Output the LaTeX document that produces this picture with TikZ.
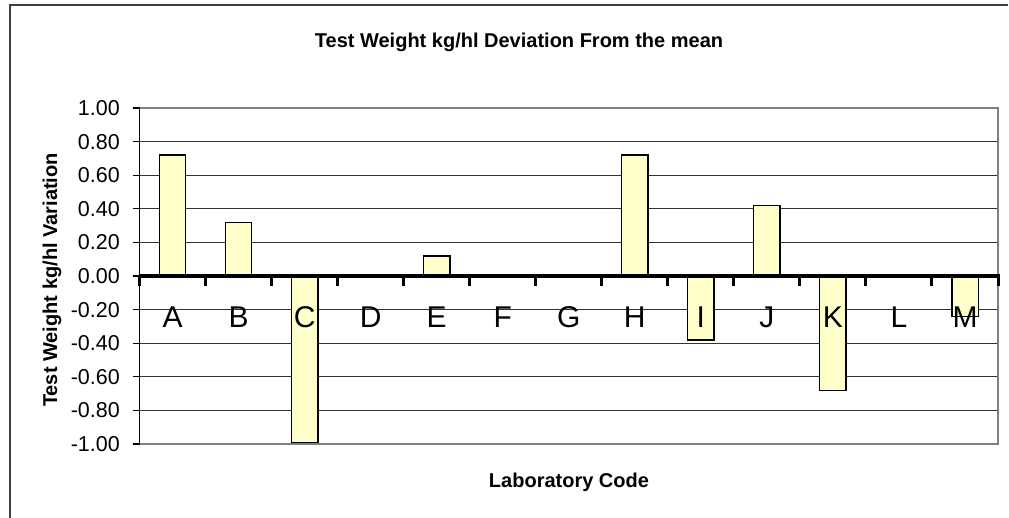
\documentclass[tikz,border=0pt]{standalone}
\usepackage{fontspec}
\setmainfont{Liberation Sans}
\definecolor{barfill}{HTML}{FFFFCC}
\begin{document}
\begin{tikzpicture}[x=1pt,y=-1pt,
  gridline/.style={line width=1pt,black!80},
  plotborder/.style={line width=2pt,black!50},
  barbox/.style={draw=black,line width=1.4pt,fill=barfill},
  ticklab/.style={font=\fontsize{21.5}{25}\selectfont,anchor=base east,inner sep=0pt},
  catlab/.style={font=\fontsize{30}{36}\selectfont,anchor=base,inner sep=0pt},
  axtitle/.style={font=\bfseries\fontsize{20}{24}\selectfont,inner sep=0pt,anchor=base}]
\useasboundingbox (0,0) rectangle (1009,518);
% chart frame
\draw[line width=2pt,black!75] (10,518) -- (10,5) -- (1008,5);
\def\L{139.5}\def\R{998}\def\T{108}\def\B{444}\def\Z{276}\def\cw{66.04}
% gridlines
\foreach \i in {1,...,9} \draw[gridline] (\L,{\T+33.6*\i}) -- (\R,{\T+33.6*\i});
\draw[plotborder] (\L,\T) -- (\R,\T) -- (\R,\B) -- (\L,\B);
% bars
\foreach \k/\v in {0/0.72,1/0.32,2/-0.99,4/0.12,7/0.72,8/-0.38,9/0.42,10/-0.68,12/-0.24}
  \draw[barbox] ({\L+\cw*(\k+0.5)-13.2},\Z) rectangle ({\L+\cw*(\k+0.5)+13.2},{\Z-168*\v});
% y axis
\draw[line width=1.2pt] (\L,\T) -- (\L,\B);
\foreach \lab [count=\i from 0] in {1.00,0.80,0.60,0.40,0.20,0.00,-0.20,-0.40,-0.60,-0.80,-1.00} {
  \draw[line width=1.2pt] ({\L-7},{\T+33.6*\i}) -- (\L,{\T+33.6*\i});
  \node[ticklab] (y\i) at (120,{\T+33.6*\i+7.5}) {\lab};
}
% x axis
\draw[line width=3.5pt] (\L,\Z) -- (1000,\Z);
\foreach \k in {0,...,13} \draw[line width=3pt] ({\L+\cw*\k},\Z) -- ++(0,10);
\foreach \c [count=\k from 0] in {A,B,C,D,E,F,G,H,I,J,K,L,M}
  \node[catlab] (c\c) at ({\L+\cw*(\k+0.5)},328) {\c};
% titles
\node[axtitle] (title) at (519,48) {Test Weight kg/hl Deviation From the mean};
\node[axtitle] (xtitle) at (569,487) {Laboratory Code};
\node[axtitle,rotate=90] (ytitle) at (57,280) {Test Weight kg/hl Variation};
\end{tikzpicture}
\end{document}
